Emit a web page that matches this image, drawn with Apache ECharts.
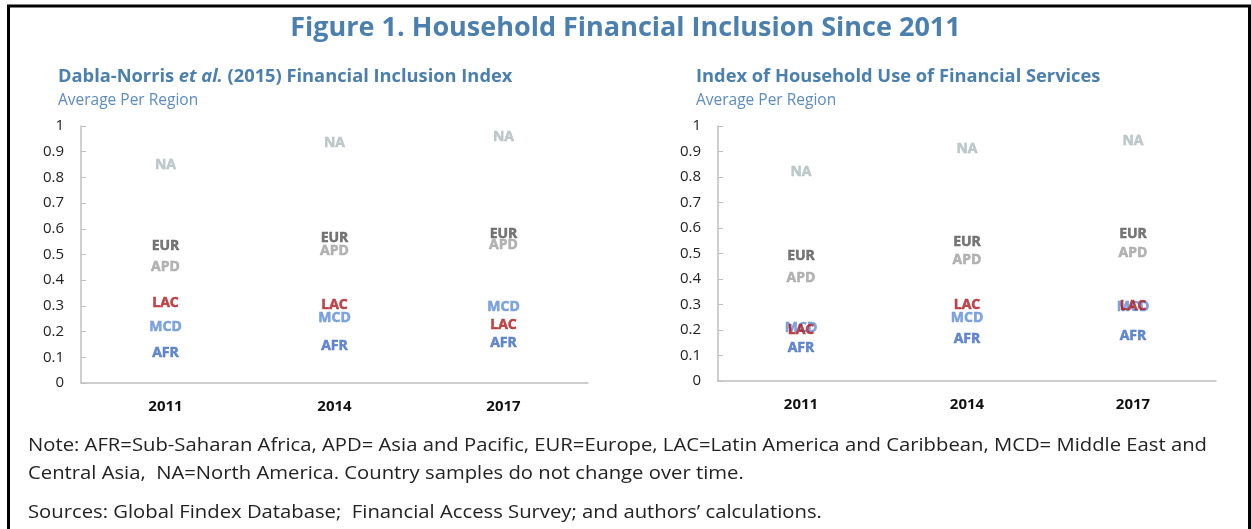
<!DOCTYPE html>
<html>
<head>
<meta charset="utf-8">
<script src="https://cdn.jsdelivr.net/npm/echarts@6/dist/echarts.min.js"></script>
<style>
  html, body { margin: 0; padding: 0; background: #fff; }
  #container { width: 1251px; height: 529px; }
</style>
</head>
<body>
<div id="container"></div>
<script>
// 年份
var years = ['2011', '2014', '2017'];
var yTicks = [0, 0.1, 0.2, 0.3, 0.4, 0.5, 0.6, 0.7, 0.8, 0.9, 1];

// Dabla-Norris et al. (2015) index, per region
var fiAFR = [0.118, 0.145, 0.157];
var fiMCD = [0.216, 0.254, 0.295];
var fiAPD = [0.450, 0.512, 0.536];
var fiEUR = [0.532, 0.563, 0.579];
var fiLAC = [0.313, 0.305, 0.225];
var fiNA  = [0.850, 0.932, 0.959];

// Index of household use of financial services, per region
var huAFR = [0.131, 0.164, 0.178];
var huMCD = [0.208, 0.246, 0.290];
var huAPD = [0.403, 0.473, 0.500];
var huEUR = [0.492, 0.544, 0.575];
var huLAC = [0.200, 0.297, 0.294];
var huNA  = [0.818, 0.911, 0.943];

var regionColors = {
	AFR: '#3d6cc7',
	MCD: '#5f8ed8',
	APD: '#a0a0a0',
	EUR: '#555555',
	LAC: '#ae1a1f',
	NA: '#aebbbd'
};

var FONT = '"Open Sans", "Noto Sans", sans-serif';

function labelSeries(name, values, gridIdx) {
	return {
		name: name,
		type: 'scatter',
		xAxisIndex: gridIdx,
		yAxisIndex: gridIdx,
		data: values,
		symbolSize: 1,
		itemStyle: { color: 'rgba(0,0,0,0)' },
		label: {
			show: true,
			position: 'inside',
			formatter: name,
			color: regionColors[name],
			textBorderColor: regionColors[name],
			textBorderWidth: 0.5,
			fontFamily: FONT,
			fontWeight: 'bold',
			fontSize: 14
		},
		emphasis: { disabled: true },
		silent: true
	};
}

function makeXAxis(gridIdx) {
	return {
		type: 'category',
		gridIndex: gridIdx,
		data: years,
		boundaryGap: true,
		axisLine: { lineStyle: { color: '#bfbfbf', width: 1.5 } },
		axisTick: { inside: true, length: 6, lineStyle: { color: '#bfbfbf' } },
		axisLabel: {
			color: '#111',
			fontFamily: FONT,
			fontWeight: 'bold',
			fontSize: 15,
			margin: 16
		},
		splitLine: { show: false }
	};
}

function makeYAxis(gridIdx) {
	return {
		type: 'value',
		gridIndex: gridIdx,
		min: yTicks[0],
		max: yTicks[yTicks.length - 1],
		interval: 0.1,
		axisLine: { show: true, lineStyle: { color: '#bfbfbf', width: 1.5 } },
		axisTick: { show: true, inside: true, length: 5, lineStyle: { color: '#bfbfbf' } },
		axisLabel: {
			color: '#222',
			fontFamily: FONT,
			fontSize: 15,
			margin: 17
		},
		splitLine: { show: false }
	};
}

function noteLine(text, y) {
	return {
		type: 'text',
		x: 28,
		y: y,
		scaleX: 1.125,
		style: {
			text: text,
			fill: '#222',
			font: '18px "Open Sans", sans-serif',
			verticalAlign: 'middle'
		},
		silent: true
	};
}

var myChart = echarts.init(document.getElementById('container'));

var option = {
	animation: false,
	backgroundColor: '#fff',
	title: [
		{
			text: 'Figure 1. Household Financial Inclusion Since 2011',
			left: 'center',
			top: 10,
			textStyle: { color: '#4a7fae', fontFamily: FONT, fontWeight: 'bold', fontSize: 27 }
		},
		{
			text: '{b|Dabla-Norris }{i|et al.}{b| (2015) Financial Inclusion Index}',
			left: 53,
			top: 63,
			textStyle: {
				rich: {
					b: { color: '#4a7fae', fontFamily: FONT, fontWeight: 'bold', fontSize: 18.3 },
					i: { color: '#4a7fae', fontFamily: FONT, fontWeight: 'bold', fontStyle: 'italic', fontSize: 18.3 }
				}
			},
			subtext: 'Average Per Region',
			itemGap: 7,
			subtextStyle: { color: '#5b8bc5', fontFamily: FONT, fontSize: 15.5 }
		},
		{
			text: 'Index of Household Use of Financial Services',
			left: 691,
			top: 63,
			textStyle: { color: '#4a7fae', fontFamily: FONT, fontWeight: 'bold', fontSize: 18.3 },
			subtext: 'Average Per Region',
			itemGap: 7,
			subtextStyle: { color: '#5b8bc5', fontFamily: FONT, fontSize: 15.5 }
		}
	],
	grid: [
		{ left: 81, top: 126, width: 507, height: 257 },
		{ left: 718, top: 126, width: 498, height: 255 }
	],
	xAxis: [makeXAxis(0), makeXAxis(1)],
	yAxis: [makeYAxis(0), makeYAxis(1)],
	series: [
		labelSeries('AFR', fiAFR, 0),
		labelSeries('APD', fiAPD, 0),
		labelSeries('EUR', fiEUR, 0),
		labelSeries('MCD', fiMCD, 0),
		labelSeries('LAC', fiLAC, 0),
		labelSeries('NA', fiNA, 0),
		labelSeries('AFR', huAFR, 1),
		labelSeries('APD', huAPD, 1),
		labelSeries('EUR', huEUR, 1),
		labelSeries('MCD', huMCD, 1),
		labelSeries('LAC', huLAC, 1),
		labelSeries('NA', huNA, 1)
	],
	graphic: [
		{
			type: 'rect',
			shape: { x: 8.5, y: 6, width: 1241, height: 560 },
			style: { fill: null, stroke: '#000', lineWidth: 3 },
			silent: true
		},
		noteLine('Note: AFR=Sub-Saharan Africa, APD= Asia and Pacific, EUR=Europe, LAC=Latin America and Caribbean, MCD= Middle East and', 446),
		noteLine('Central Asia,  NA=North America. Country samples do not change over time.', 474),
		noteLine('Sources: Global Findex Database;  Financial Access Survey; and authors\u2019 calculations.', 513)
	]
};

myChart.setOption(option);
</script>
</body>
</html>
